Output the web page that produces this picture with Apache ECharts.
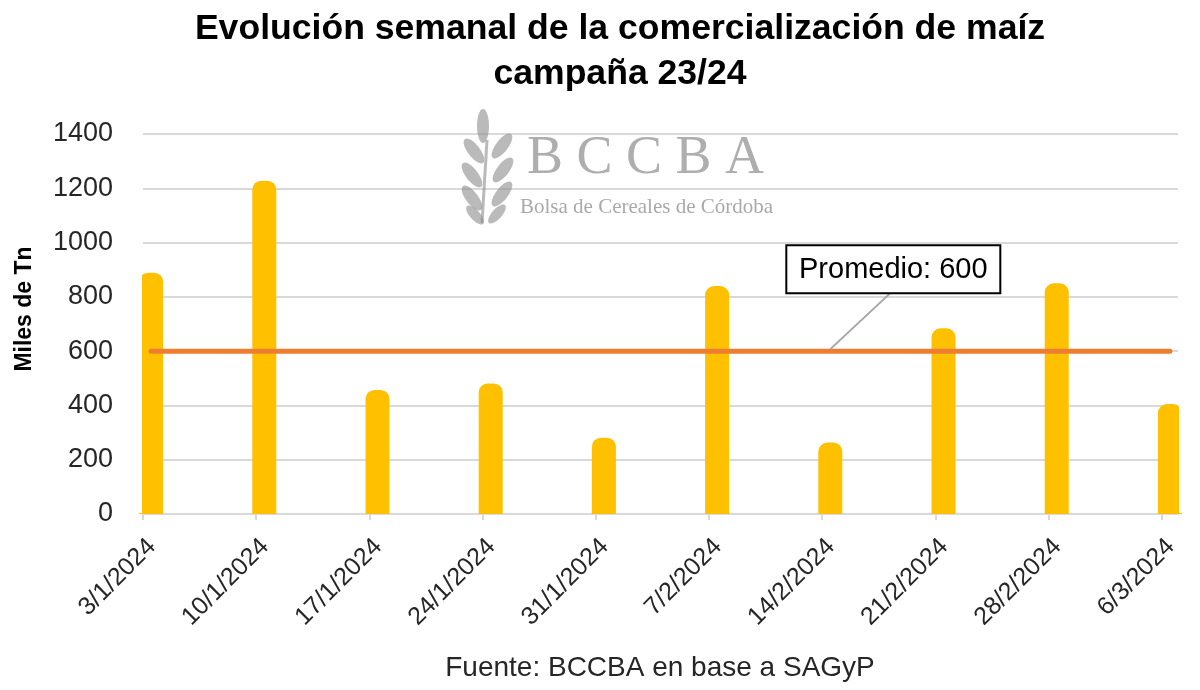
<!DOCTYPE html>
<html>
<head>
<meta charset="utf-8">
<title>Comercialización de maíz</title>
<script src="https://cdn.jsdelivr.net/npm/echarts@6/dist/echarts.min.js"></script>
<style>
  html, body { margin: 0; padding: 0; background: #fff; }
  #chart { width: 1200px; height: 690px; }
</style>
</head>
<body>
<div id="chart"></div>
<script>
// semanas (fecha de cada barra)
var fechas = ['3/1/2024', '10/1/2024', '17/1/2024', '24/1/2024', '31/1/2024',
  '7/2/2024', '14/2/2024', '21/2/2024', '28/2/2024', '6/3/2024'];
// miles de Tn comercializadas por semana
var comercializacion = [889, 1228, 457, 481, 281, 840, 263, 684, 850, 405];
// promedio de la campaña
var promedio = 600;

var FONT = '"Liberation Sans", Arial, sans-serif';

// dias desde la primera fecha (eje de fechas como en Excel)
function aDia(f) {
  var p = f.split('/').map(Number);
  return Date.UTC(p[2], p[1] - 1, p[0]) / 86400000;
}
var dia0 = aDia(fechas[0]);
var dias = fechas.map(function (f) { return aDia(f) - dia0; });
var diaFin = dias[dias.length - 1] + 1;

var barras = dias.map(function (d, i) { return [d, comercializacion[i]]; });
var lineaProm = dias.map(function (d) { return [d, promedio]; });

var chart = echarts.init(document.getElementById('chart'), null, { renderer: 'canvas' });

var option = {
  animation: false,
  title: {
    text: 'Evolución semanal de la comercialización de maíz\ncampaña 23/24',
    left: 615,
    textAlign: 'center',
    top: 2,
    textStyle: { fontFamily: FONT, fontSize: 35.6, fontWeight: 'bold', color: '#000', lineHeight: 45 }
  },
  grid: { left: 143, right: 22, top: 134, bottom: 176, outerBoundsMode: 'none', containLabel: false },
  xAxis: [{
    type: 'value',
    min: 0,
    max: diaFin,
    splitLine: { show: false },
    axisLine: { lineStyle: { color: '#D9D9D9', width: 2 } },
    axisTick: { show: true, customValues: dias, length: 6, lineStyle: { color: '#D9D9D9', width: 2 } },
    axisLabel: {
      customValues: dias,
      rotate: 45,
      margin: 20,
      verticalAlign: 'top',
      fontFamily: FONT,
      fontSize: 25,
      color: '#262626',
      formatter: function (v) {
        var i = dias.indexOf(v);
        return i >= 0 ? fechas[i] : '';
      }
    }
  }, {
    // Excel centra cada barra en la mitad del dia
    type: 'value',
    min: -0.5,
    max: diaFin - 0.5,
    show: false
  }],
  yAxis: {
    type: 'value',
    min: 0,
    max: 1400,
    interval: 200,
    axisLine: { show: false },
    axisTick: { show: false },
    axisLabel: {
      margin: 30, fontFamily: FONT, fontSize: 27, color: '#262626',
      formatter: function (v) { return String(v); }
    },
    splitLine: { lineStyle: { color: '#D9D9D9', width: 2 } }
  },
  series: [{
    type: 'bar',
    xAxisIndex: 1,
    data: barras,
    barWidth: 24,
    itemStyle: { color: '#FFC000', borderRadius: [9, 9, 0, 0] },
    z: 2
  }, {
    type: 'line',
    xAxisIndex: 1,
    data: lineaProm,
    symbol: 'none',
    lineStyle: { color: '#ED7D31', width: 5, cap: 'round' },
    z: 3
  }]
};

chart.setOption(option);

// borde del area de trazado: las barras extremas quedan recortadas como en Excel
var esq0 = chart.convertToPixel({ xAxisIndex: 0, yAxisIndex: 0 }, [0, 1400]);
var esq1 = chart.convertToPixel({ xAxisIndex: 0, yAxisIndex: 0 }, [diaFin, 0]);

// anotacion "Promedio" y marca de agua BCCBA
var p = chart.convertToPixel({ xAxisIndex: 1, yAxisIndex: 0 }, [42, promedio]);
var cajaX = p[0] - 44, cajaY = p[1] - 106;

var hojas = [
  [483, 126, 0, 6, 17],
  [474, 151, 38, 6, 15], [502, 146, -38, 6, 15],
  [472, 175, 38, 6, 15], [503, 170, -38, 6, 15],
  [472, 198, 38, 6, 15], [502, 194, -38, 6, 15],
  [475, 215, 42, 5, 12], [497, 214, -42, 5, 12]
];
var trigo = hojas.map(function (h) {
  return {
    type: 'ellipse',
    x: h[0], y: h[1],
    rotation: h[2] * Math.PI / 180,
    shape: { cx: 0, cy: 0, rx: h[3], ry: h[4] },
    style: { fill: '#8c8c8c', opacity: 0.6 },
    z: 0
  };
});
trigo.push({
  type: 'line',
  shape: { x1: 487, y1: 140, x2: 482, y2: 223 },
  style: { stroke: '#8c8c8c', lineWidth: 3, opacity: 0.6 },
  z: 0
});

chart.setOption({
  graphic: trigo.concat([{
    type: 'rect',
    shape: { x: esq0[0] - 20, y: esq0[1] - 4, width: 19, height: esq1[1] - esq0[1] + 3 },
    style: { fill: '#fff' },
    z: 5
  }, {
    type: 'rect',
    shape: { x: esq1[0] + 1, y: esq0[1] - 4, width: 30, height: esq1[1] - esq0[1] + 3 },
    style: { fill: '#fff' },
    z: 5
  }, {
    type: 'text',
    left: 527, top: 132,
    style: { text: 'B C C B A', fontFamily: '"Liberation Serif", "DejaVu Serif", serif', fontSize: 54, fill: '#a0a0a0', opacity: 0.85 },
    z: 0
  }, {
    type: 'text',
    left: 520, top: 197,
    style: { text: 'Bolsa de Cereales de Córdoba', fontFamily: '"Liberation Serif", "DejaVu Serif", serif', fontSize: 21, fill: '#a0a0a0', opacity: 0.9 },
    z: 0
  }, {
    type: 'text',
    x: 25, y: 309,
    rotation: Math.PI / 2,
    style: { text: 'Miles de Tn', fontFamily: FONT, fontSize: 23, fontWeight: 'bold', fill: '#000', align: 'center', verticalAlign: 'middle' },
    z: 10
  }, {
    type: 'line',
    shape: { x1: p[0], y1: p[1] - 2, x2: p[0] + 60, y2: cajaY + 48 },
    style: { stroke: '#A6A6A6', lineWidth: 2 },
    z: 10
  }, {
    type: 'rect',
    shape: { x: cajaX, y: cajaY, width: 214, height: 48 },
    style: { fill: '#fff', stroke: '#000', lineWidth: 2 },
    z: 10
  }, {
    type: 'text',
    x: cajaX + 107, y: cajaY + 25,
    style: { text: 'Promedio: ' + promedio, fontFamily: FONT, fontSize: 29, fill: '#000', align: 'center', verticalAlign: 'middle' },
    z: 11
  }, {
    type: 'text',
    x: 660, y: 668,
    style: { text: 'Fuente: BCCBA en base a SAGyP', fontFamily: FONT, fontSize: 28, fill: '#262626', align: 'center', verticalAlign: 'middle' },
    z: 10
  }])
});
</script>
</body>
</html>
